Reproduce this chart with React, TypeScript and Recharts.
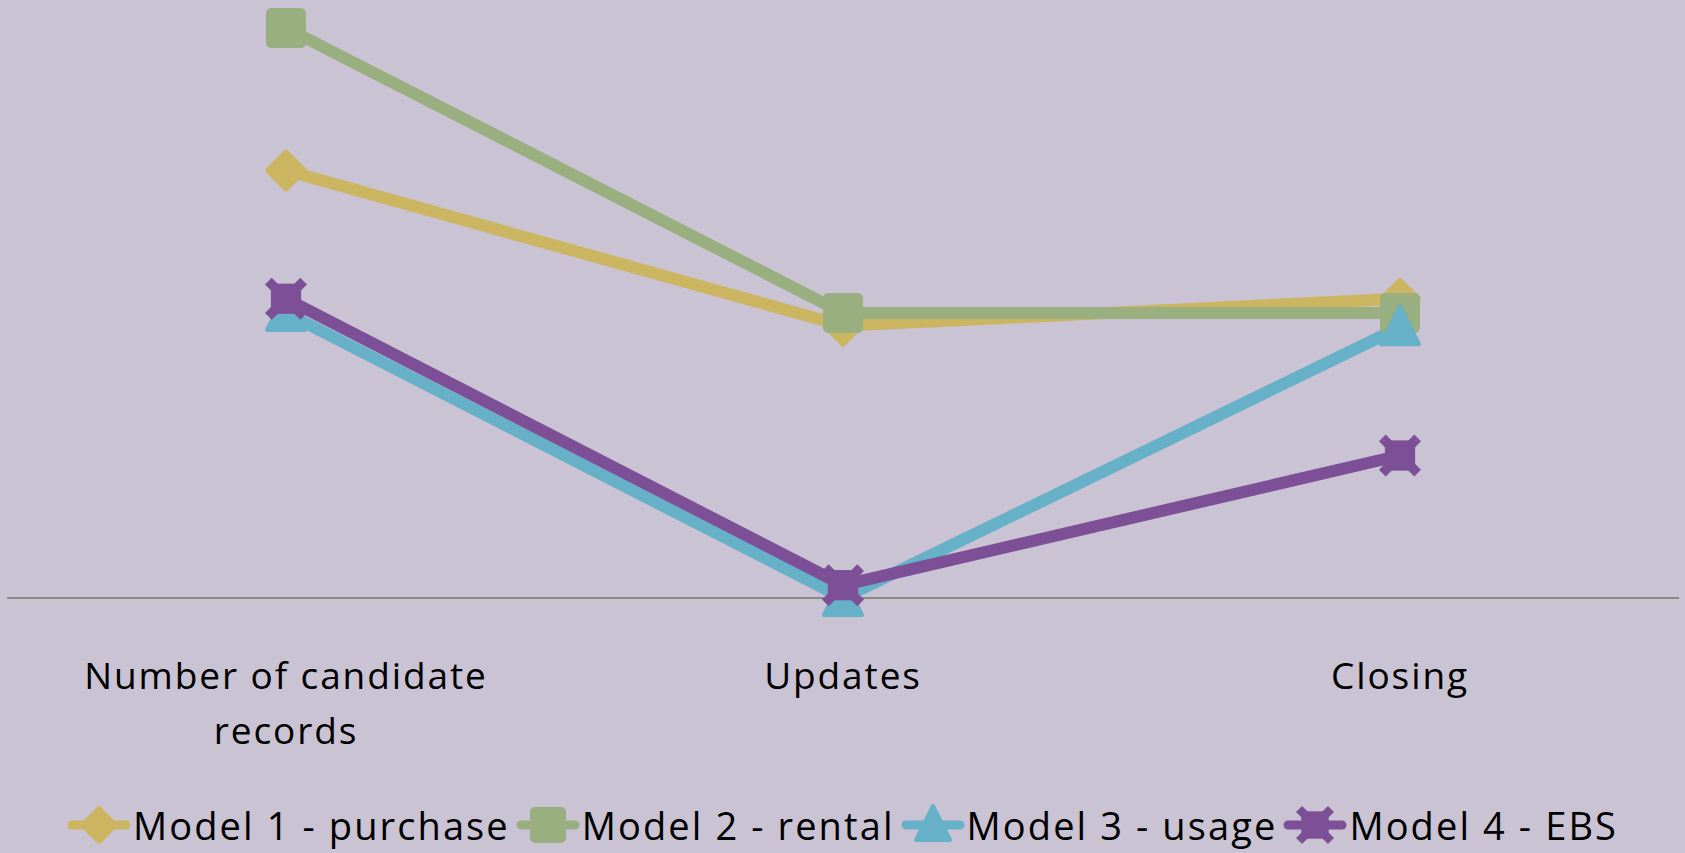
import React from "react";
import { LineChart, Line, XAxis, YAxis, Legend } from "recharts";

const categories = ["Number of candidate records", "Updates", "Closing"];
const model1Purchase = [30, 19.1, 21];
const model2Rental = [40, 20, 20];
const model3Usage = [20, 0, 19];
const model4EBS = [21, 0.9, 10];

const seriesNames = ["Model 1 - purchase", "Model 2 - rental", "Model 3 - usage", "Model 4 - EBS"];
const seriesKeys = ["m1", "m2", "m3", "m4"];
const seriesColors = ["#CCB560", "#9AAF7F", "#66B0C8", "#7D4F96"];
const seriesShapes = ["diamond", "square", "triangle", "cross"];

const data = categories.map((c, i) => ({
  category: c,
  m1: model1Purchase[i],
  m2: model2Rental[i],
  m3: model3Usage[i],
  m4: model4EBS[i],
}));

const FONT = "'Open Sans', 'Noto Sans', sans-serif";

function Marker({ shape, cx, cy, color, s }: { shape: string; cx: number; cy: number; color: string; s: number }) {
  if (shape === "diamond") {
    const h = s - 2;
    return (
      <polygon
        points={`${cx},${cy - h} ${cx + h},${cy} ${cx},${cy + h} ${cx - h},${cy}`}
        fill={color}
        stroke={color}
        strokeWidth={4}
        strokeLinejoin="round"
      />
    );
  }
  if (shape === "square") {
    return <rect x={cx - s + 1} y={cy - s + 1} width={2 * s - 2} height={2 * s - 2} rx={s * 0.25} fill={color} />;
  }
  if (shape === "triangle") {
    const h = s - 2;
    return (
      <polygon
        points={`${cx},${cy - h - 2} ${cx + h},${cy + h - 2} ${cx - h},${cy + h - 2}`}
        fill={color}
        stroke={color}
        strokeWidth={4}
        strokeLinejoin="round"
      />
    );
  }
  const b = s * 0.72;
  const e = s * 0.84;
  return (
    <g>
      <rect x={cx - b} y={cy - b} width={2 * b} height={2 * b} fill={color} />
      <line x1={cx - e} y1={cy - e} x2={cx + e} y2={cy + e} stroke={color} strokeWidth={s * 0.45} />
      <line x1={cx - e} y1={cy + e} x2={cx + e} y2={cy - e} stroke={color} strokeWidth={s * 0.45} />
    </g>
  );
}

const makeDot = (idx: number) => (props: any) => {
  const { cx, cy, index } = props;
  if (cx == null || cy == null) return <g key={`d${idx}-${index}`} />;
  return (
    <g key={`d${idx}-${index}`}>
      <Marker shape={seriesShapes[idx]} cx={cx} cy={cy} color={seriesColors[idx]} s={21} />
    </g>
  );
};

function wrapLabel(text: string, maxChars: number): string[] {
  const words = text.split(" ");
  const lines: string[] = [];
  let cur = "";
  for (const w of words) {
    const next = cur ? cur + " " + w : w;
    if (next.length > maxChars && cur) {
      lines.push(cur);
      cur = w;
    } else {
      cur = next;
    }
  }
  if (cur) lines.push(cur);
  return lines;
}

const CategoryTick = (props: any) => {
  const { x, y, payload } = props;
  const lines = wrapLabel(String(payload.value), 20);
  return (
    <text x={x} y={y + 91} textAnchor="middle" fill="#000" fontFamily={FONT} fontSize={37} letterSpacing={1.9}>
      {lines.map((l, i) => (
        <tspan key={i} x={x} dy={i === 0 ? 0 : 55}>
          {l}
        </tspan>
      ))}
    </text>
  );
};

const LegendContent = () => (
  <div
    style={{
      display: "flex",
      justifyContent: "center",
      alignItems: "center",
      height: 56,
      width: 1685,
      fontFamily: FONT,
      fontSize: 38,
      letterSpacing: 2.1,
      color: "#000",
      whiteSpace: "nowrap",
    }}
  >
    {seriesNames.map((n, i) => (
      <div key={n} style={{ display: "flex", alignItems: "center", marginRight: i < 3 ? 6 : 0 }}>
        <svg width={64} height={44} style={{ display: "block" }}>
          <line x1={5} y1={22} x2={59} y2={22} stroke={seriesColors[i]} strokeWidth={9} strokeLinecap="round" />
          <Marker shape={seriesShapes[i]} cx={32} cy={22} color={seriesColors[i]} s={19} />
        </svg>
        <span style={{ marginLeft: 2 }}>{n}</span>
      </div>
    ))}
  </div>
);

export default function App() {
  return (
    <div style={{ position: "absolute", left: 0, top: 0, width: 1685, height: 853, background: "#C9C3D3", overflow: "hidden" }}>
      <LineChart width={1685} height={853} data={data} margin={{ top: 28, right: 6, left: 7, bottom: 0 }}>
        <XAxis
          dataKey="category"
          padding={{ left: 279, right: 279 }}
          axisLine={{ stroke: "#878787", strokeWidth: 2 }}
          tickLine={false}
          tickSize={0}
          tickMargin={0}
          height={199}
          interval={0}
          tick={<CategoryTick />}
        />
        <YAxis hide domain={[0, 40]} />
        <Legend
          verticalAlign="bottom"
          content={<LegendContent />}
          wrapperStyle={{ left: 0, bottom: 0, width: 1685, height: 56 }}
        />
        {seriesKeys.map((k, i) => (
          <Line
            key={k}
            dataKey={k}
            name={seriesNames[i]}
            type="linear"
            stroke={seriesColors[i]}
            strokeWidth={12}
            dot={makeDot(i)}
            activeDot={false}
            isAnimationActive={false}
          />
        ))}
      </LineChart>
    </div>
  );
}
